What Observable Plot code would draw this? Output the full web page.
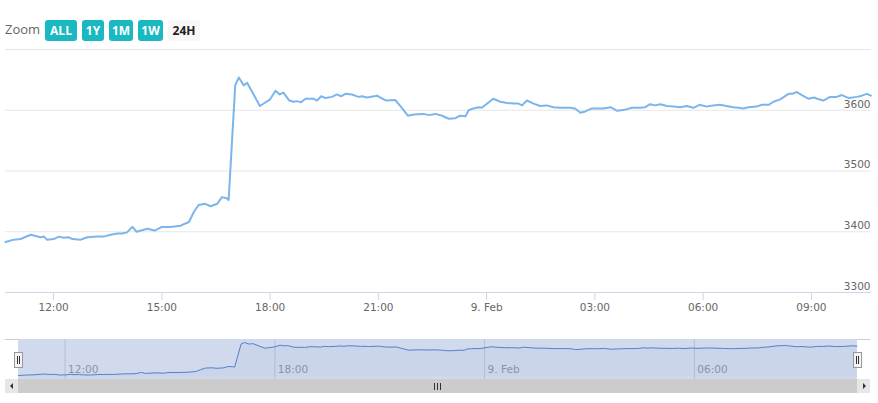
<!DOCTYPE html>
<html><head><meta charset="utf-8">
<script src="https://cdn.jsdelivr.net/npm/d3@7"></script>
<script src="https://cdn.jsdelivr.net/npm/@observablehq/plot@0.6"></script>
<style>
body{margin:0;background:#fff;}
#wrap{position:relative;width:878px;height:403px;overflow:hidden;font-family:"DejaVu Sans",sans-serif;}
#wrap svg{position:absolute;left:0;}
.abs{position:absolute;}
.btn{position:absolute;top:20px;height:21px;line-height:21px;border-radius:3px;text-align:center;font-family:"Open Sans",sans-serif;font-weight:bold;font-size:12px;color:#fff;background:#1ab8c0;}
.btn.sel{background:#f7f7f7;color:#222;}
.handle{position:absolute;width:7px;height:14px;background:#f2f2f2;border:1px solid #999;}
.handle i{position:absolute;top:3px;width:1px;height:8px;background:#333;}
.rifle{position:absolute;top:383px;width:1px;height:7px;background:#333;}
</style></head><body><div id="wrap"></div>
<script>
// ---- data ----
const times = [
"2018-02-08T10:40","2018-02-08T10:54","2018-02-08T11:05","2018-02-08T11:22","2018-02-08T11:30","2018-02-08T11:38","2018-02-08T11:44","2018-02-08T11:49",
"2018-02-08T12:00","2018-02-08T12:09","2018-02-08T12:17","2018-02-08T12:25","2018-02-08T12:31","2018-02-08T12:45","2018-02-08T12:56","2018-02-08T13:12",
"2018-02-08T13:23","2018-02-08T13:35","2018-02-08T13:46","2018-02-08T13:54","2018-02-08T14:02","2018-02-08T14:11","2018-02-08T14:18","2018-02-08T14:36",
"2018-02-08T14:48","2018-02-08T15:00","2018-02-08T15:14","2018-02-08T15:31","2018-02-08T15:45","2018-02-08T15:53","2018-02-08T16:01","2018-02-08T16:12",
"2018-02-08T16:21","2018-02-08T16:32","2018-02-08T16:40","2018-02-08T16:48","2018-02-08T16:51","2018-02-08T17:02","2018-02-08T17:08","2018-02-08T17:16",
"2018-02-08T17:22","2018-02-08T17:43","2018-02-08T18:00","2018-02-08T18:09","2018-02-08T18:16","2018-02-08T18:22","2018-02-08T18:32","2018-02-08T18:39",
"2018-02-08T18:45","2018-02-08T18:51","2018-02-08T18:59","2018-02-08T19:12","2018-02-08T19:18","2018-02-08T19:25","2018-02-08T19:32","2018-02-08T19:43",
"2018-02-08T19:51","2018-02-08T19:58","2018-02-08T20:05","2018-02-08T20:16","2018-02-08T20:27","2018-02-08T20:33","2018-02-08T20:41","2018-02-08T20:58",
"2018-02-08T21:03","2018-02-08T21:13","2018-02-08T21:28","2018-02-08T21:38","2018-02-08T21:49","2018-02-08T21:59","2018-02-08T22:15","2018-02-08T22:24",
"2018-02-08T22:35","2018-02-08T22:46","2018-02-08T22:57","2018-02-08T23:08","2018-02-08T23:16","2018-02-08T23:25","2018-02-08T23:30","2018-02-08T23:38",
"2018-02-08T23:47","2018-02-08T23:52","2018-02-09T00:01","2018-02-09T00:11","2018-02-09T00:23","2018-02-09T00:34","2018-02-09T00:45","2018-02-09T00:53",
"2018-02-09T00:59","2018-02-09T01:07","2018-02-09T01:18","2018-02-09T01:29","2018-02-09T01:40","2018-02-09T01:51","2018-02-09T02:02","2018-02-09T02:19",
"2018-02-09T02:27","2018-02-09T02:36","2018-02-09T02:44","2018-02-09T02:55","2018-02-09T03:14","2018-02-09T03:26","2018-02-09T03:37","2018-02-09T03:50",
"2018-02-09T04:02","2018-02-09T04:15","2018-02-09T04:24","2018-02-09T04:32","2018-02-09T04:40","2018-02-09T04:49","2018-02-09T05:00","2018-02-09T05:11",
"2018-02-09T05:22","2018-02-09T05:33","2018-02-09T05:44","2018-02-09T05:54","2018-02-09T06:06","2018-02-09T06:17","2018-02-09T06:28","2018-02-09T06:39",
"2018-02-09T06:50","2018-02-09T06:59","2018-02-09T07:07","2018-02-09T07:15","2018-02-09T07:29","2018-02-09T07:38","2018-02-09T07:49","2018-02-09T07:57",
"2018-02-09T08:08","2018-02-09T08:22","2018-02-09T08:28","2018-02-09T08:36","2018-02-09T08:44","2018-02-09T08:55","2018-02-09T09:05","2018-02-09T09:12",
"2018-02-09T09:20","2018-02-09T09:31","2018-02-09T09:42","2018-02-09T09:51","2018-02-09T10:02","2018-02-09T10:16","2018-02-09T10:24","2018-02-09T10:32",
"2018-02-09T10:39"
];
const prices = [
3383,3387,3388,3395,3393,3391,3392,3387,
3388,3392,3390,3391,3388,3387,3391,3392,
3392,3395,3397,3397,3399,3408,3400,3405,
3402,3408,3408,3410,3416,3432,3444,3446,
3442,3446,3457,3455,3452,3641,3654,3641,
3645,3607,3618,3632,3626,3629,3616,3614,
3615,3613,3619,3619,3616,3623,3620,3622,
3626,3623,3627,3626,3622,3623,3621,3624,
3621,3616,3617,3605,3591,3593,3594,3592,
3594,3591,3586,3587,3591,3590,3600,3603,
3605,3604,3611,3619,3614,3612,3611,3611,
3608,3616,3611,3607,3608,3605,3604,3604,
3603,3596,3598,3603,3603,3605,3599,3601,
3604,3604,3605,3610,3608,3610,3607,3606,
3605,3607,3604,3609,3606,3608,3609,3607,
3605,3604,3603,3605,3606,3609,3609,3614,
3618,3627,3627,3630,3625,3619,3621,3618,
3616,3622,3622,3625,3620,3622,3624,3627,
3624
];
const xDomainTimes = ["2018-02-08T10:40","2018-02-09T10:40"];
const yGridValues = [3300,3400,3500,3600,3700];
const yTickValues = [3300,3400,3500,3600];
const xTickTimes = ["2018-02-08T12:00","2018-02-08T15:00","2018-02-08T18:00","2018-02-08T21:00","2018-02-09T00:00","2018-02-09T03:00","2018-02-09T06:00","2018-02-09T09:00"];
const xTickLabels = ["12:00","15:00","18:00","21:00","9. Feb","03:00","06:00","09:00"];
const navTickTimes = ["2018-02-08T12:00","2018-02-08T18:00","2018-02-09T00:00","2018-02-09T06:00"];
const navTickLabels = ["12:00","18:00","9. Feb","06:00"];
const zoomLabel = "Zoom";
const zoomButtons = ["ALL","1Y","1M","1W","24H"];
const selectedButton = "24H";

// ---- build ----
const parse = d3.utcParse("%Y-%m-%dT%H:%M");
const data = times.map((t,i)=>({t: parse(t), v: prices[i]}));
const xDomain = xDomainTimes.map(parse);
const xTicks = xTickTimes.map(parse);
const xLab = new Map(xTicks.map((d,i)=>[+d, xTickLabels[i]]));
const navTicks = navTickTimes.map(parse);
const navLab = new Map(navTicks.map((d,i)=>[+d, navTickLabels[i]]));
const wrap = document.getElementById("wrap");

const main = Plot.plot({
  width: 878, height: 320,
  marginTop: 49, marginBottom: 28, marginLeft: 5, marginRight: 7,
  style: {fontFamily: "DejaVu Sans", fontSize: "10.5px", background: "transparent", overflow: "visible"},
  x: {type: "utc", domain: xDomain, label: null},
  y: {domain: [3300, 3700], label: null},
  marks: [
    Plot.ruleY(yGridValues, {stroke: "#e6e6e6"}),
    Plot.ruleY([3300], {stroke: "#ccd6eb"}),
    Plot.line(data, {x: "t", y: "v", stroke: "#7cb5ec", strokeWidth: 2}),
    Plot.axisX(xTicks, {tickSize: 8, tickPadding: 3, stroke: "#ccd6eb", fill: "#666", tickFormat: d => xLab.get(+d)}),
    Plot.axisY(yTickValues, {anchor: "right", tickSize: 0, tickPadding: 0, textAnchor: "end", dx: -1, dy: -6, fill: "#666", tickFormat: d => String(d)})
  ]
});
main.style.top = "0px";
wrap.appendChild(main);

const nav = Plot.plot({
  width: 878, height: 40,
  marginTop: 0, marginBottom: 0, marginLeft: 18, marginRight: 21,
  style: {fontFamily: "DejaVu Sans", fontSize: "10.5px", background: "transparent", overflow: "visible"},
  x: {type: "utc", domain: xDomain, label: null, axis: null},
  y: {domain: d3.extent(prices), range: [36, 3], label: null, axis: null},
  marks: [
    Plot.ruleX(navTicks, {stroke: "#d9d9d9"}),
    Plot.areaY(data, {x: "t", y1: d3.min(prices) - 12, y2: "v", fill: "#335cad", fillOpacity: 0.05}),
    Plot.line(data, {x: "t", y: "v", stroke: "#4f7fd0", strokeWidth: 1}),
    Plot.text(navTicks, {x: d => d, text: d => navLab.get(+d), frameAnchor: "bottom", textAnchor: "start", dx: 3, dy: -7, fill: "#999"})
  ]
});
nav.style.top = "339px";
wrap.appendChild(nav);

function div(cls, css, html) {
  const e = document.createElement("div");
  e.className = cls; e.style.cssText = css; if (html) e.innerHTML = html;
  wrap.appendChild(e); return e;
}
// navigator mask and outline
div("abs", "left:18px;top:339px;width:839px;height:40px;background:rgba(102,133,194,0.3);");
div("abs", "left:5px;top:339px;width:13px;height:1px;background:#ccc;");
div("abs", "left:857px;top:339px;width:13px;height:1px;background:#ccc;");
// handles
[14, 853].forEach(x => div("handle", `left:${x}px;top:352px;`, "<i style='left:2px'></i><i style='left:4px'></i>"));
// scrollbar
div("abs", "left:5px;top:379px;width:865px;height:14px;background:#f2f2f2;");
div("abs", "left:18px;top:379px;width:839px;height:14px;background:#ccc;");
div("abs", "left:5px;top:379px;width:13px;height:14px;background:#e6e6e6;");
div("abs", "left:857px;top:379px;width:13px;height:14px;background:#e6e6e6;");
div("abs", "left:10px;top:383px;width:0;height:0;border-top:3px solid transparent;border-bottom:3px solid transparent;border-right:3px solid #333;");
div("abs", "left:863px;top:383px;width:0;height:0;border-top:3px solid transparent;border-bottom:3px solid transparent;border-left:3px solid #333;");
[434, 437, 440].forEach(x => div("rifle", `left:${x}px;`));
// range selector
div("abs", "left:5px;top:19px;height:20px;line-height:20px;font-family:'Open Sans',sans-serif;font-size:13px;color:#666;", zoomLabel);
const btnPos = [[45,32],[82,22],[109,24],[138,25],[168,32]];
zoomButtons.forEach((b,i) => div("btn" + (b === selectedButton ? " sel" : ""), `left:${btnPos[i][0]}px;width:${btnPos[i][1]}px;`, b));
</script></body></html>
